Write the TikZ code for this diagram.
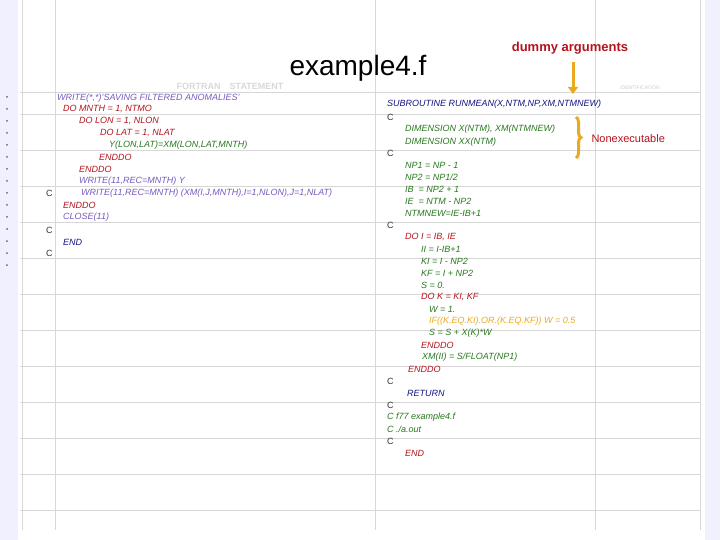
\documentclass[tikz,border=0pt]{standalone}
\usepackage{fontspec}
\setmainfont{Liberation Sans}
\usetikzlibrary{decorations.pathreplacing,arrows.meta}
\definecolor{cpur}{RGB}{120,90,190}
\definecolor{cred}{RGB}{180,20,30}
\definecolor{cgrn}{RGB}{40,120,30}
\definecolor{cnav}{RGB}{20,20,130}
\definecolor{corg}{RGB}{235,170,30}
\definecolor{formg}{RGB}{215,215,215}
\tikzset{code/.style={anchor=west,inner sep=0pt,font=\fontsize{9}{9}\selectfont\itshape},
 cc/.style={anchor=west,inner sep=0pt,font=\fontsize{9}{9}\selectfont, color=black!80}}
\begin{document}
\begin{tikzpicture}[x=1pt,y=-1pt]
\useasboundingbox (0,0) rectangle (720,540);
\fill[white] (0,0) rectangle (720,540);
\fill[blue!6] (0,0) rectangle (18,540);
\fill[blue!6] (705,0) rectangle (720,540);
% form lines
\foreach \y in {92,114,150,186,222,258,294,330,366,402,438,474,510} \draw[formg] (20,\y) -- (700,\y);
\foreach \x in {22,55,375,595,700} \draw[formg] (\x,0) -- (\x,530);
\node[text=black!15,font=\fontsize{9}{9}\selectfont\bfseries,inner sep=0pt] (hdr) at (230,86) {FORTRAN\quad STATEMENT};
\node[text=black!20,font=\tiny] (ident) at (640,88) {IDENTIFICATION};
\foreach \y in {97,109,...,265} \fill[black!60] (7,\y) circle (1);
% title
\node[font=\fontsize{28}{30}\selectfont,inner sep=0pt] (title) at (358,68) {example4.f};
\node[font=\fontsize{13}{14}\selectfont\bfseries,text=cred] (dummy) at (570,48) {dummy arguments};
% left block
\node[code,cpur] (l1) at (57,98) {WRITE(*,*)'SAVING FILTERED ANOMALIES'};
\node[code,cred] (l2) at (63,109) {DO MNTH = 1, NTMO};
\node[code,cred] (l3) at (79,121) {DO LON = 1, NLON};
\node[code,cred] (l4) at (100,133) {DO LAT = 1, NLAT};
\node[code,cgrn] (l5) at (109,145) {Y(LON,LAT)=XM(LON,LAT,MNTH)};
\node[code,cred] (l6) at (99,157) {ENDDO};
\node[code,cred] (l7) at (79,169) {ENDDO};
\node[code,cpur] (l8) at (79,181) {WRITE(11,REC=MNTH) Y};
\node[cc] (c1) at (46,193) {C};
\node[code,cpur] (l9) at (81,193) {WRITE(11,REC=MNTH) (XM(I,J,MNTH),I=1,NLON),J=1,NLAT)};
\node[code,cred] (l10) at (63,205) {ENDDO};
\node[code,cpur] (l11) at (63,217) {CLOSE(11)};
\node[cc] (c2) at (46,230) {C};
\node[code,cnav] (l12) at (63,242) {END};
\node[cc] (c3) at (46,253) {C};
% right block
\node[code,cnav] (r1) at (387,104) {SUBROUTINE RUNMEAN(X,NTM,NP,XM,NTMNEW)};
\node[cc] (rc1) at (387,117) {C};
\node[code,cgrn] (r2) at (405,129) {DIMENSION X(NTM), XM(NTMNEW)};
\node[code,cgrn] (r3) at (405,142) {DIMENSION XX(NTM)};
\node[cc] (rc2) at (387,153) {C};
\node[code,cgrn] (r4) at (405,165) {NP1 = NP - 1};
\node[code,cgrn] (r5) at (405,177) {NP2 = NP1/2};
\node[code,cgrn] (r6) at (405,189) {IB\ \ = NP2 + 1};
\node[code,cgrn] (r7) at (405,201) {IE\ \ = NTM - NP2};
\node[code,cgrn] (r8) at (405,213) {NTMNEW=IE-IB+1};
\node[cc] (rc3) at (387,225) {C};
\node[code,cred] (r9) at (405,237) {DO I = IB, IE};
\node[code,cgrn] (r10) at (421,249) {II = I-IB+1};
\node[code,cgrn] (r11) at (421,261) {KI = I - NP2};
\node[code,cgrn] (r12) at (421,273) {KF = I + NP2};
\node[code,cgrn] (r13) at (421,285) {S = 0.};
\node[code,cred] (r14) at (421,297) {DO K = KI, KF};
\node[code,cgrn] (r15) at (429,309) {W = 1.};
\node[code,corg] (r16) at (429,321) {IF((K.EQ.KI).OR.(K.EQ.KF)) W = 0.5};
\node[code,cgrn] (r17) at (429,333) {S = S + X(K)*W};
\node[code,cred] (r18) at (421,345) {ENDDO};
\node[code,cgrn] (r19) at (422,357) {XM(II) = S/FLOAT(NP1)};
\node[code,cred] (r20) at (408,369) {ENDDO};
\node[cc] (rc4) at (387,381) {C};
\node[code,cnav] (r21) at (407,393) {RETURN};
\node[cc] (rc5) at (387,405) {C};
\node[code,cgrn] (r22) at (387,417) {C f77 example4.f};
\node[code,cgrn] (r23) at (387,429) {C ./a.out};
\node[cc] (rc6) at (387,441) {C};
\node[code,cred] (r24) at (405,453) {END};
% annotations
\coordinate (atop) at (573,62);
\coordinate (abot) at (573,94);
\draw[corg,line width=3pt,-{Triangle[width=10pt,length=7pt]}] (atop) -- (abot);
\coordinate (bt) at (576,117);
\coordinate (bb) at (576,158);
\draw[corg,line width=3pt,decorate,decoration={brace,amplitude=5pt}] (bt) -- (bb);
\node[anchor=west,text=cred,font=\fontsize{11}{12}\selectfont] (nonex) at (588,139) {Nonexecutable};
\end{tikzpicture}
\end{document}
